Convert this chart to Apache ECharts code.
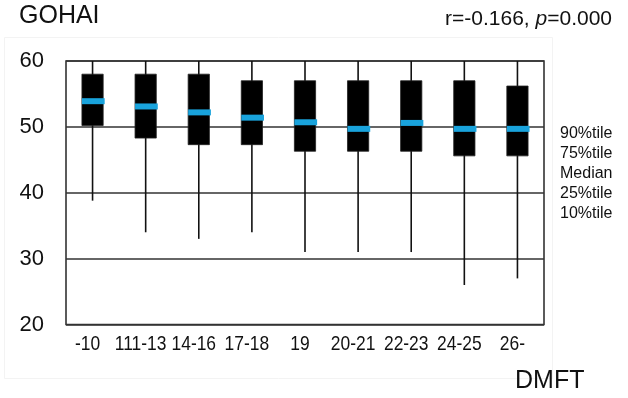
<!DOCTYPE html>
<html>
<head>
<meta charset="utf-8">
<script src="https://cdn.jsdelivr.net/npm/echarts@6/dist/echarts.min.js"></script>
<style>
  html, body { margin: 0; padding: 0; background: #fff; }
  #chart { width: 628px; height: 398px; }
</style>
</head>
<body>
<div id="chart"></div>
<script>
// DMFT groups and GOHAI percentiles per group
const categories = ['-10', '111-13', '14-16', '17-18', '19', '20-21', '22-23', '24-25', '26-'];
const p10    = [38.8, 34.0, 33.0, 34.0, 31.0, 31.0, 31.0, 26.0, 27.0];
const p25    = [50.2, 48.3, 47.3, 47.3, 46.3, 46.3, 46.3, 45.6, 45.6];
const median = [53.9, 53.1, 52.2, 51.4, 50.7, 49.7, 50.6, 49.7, 49.7];
const p75    = [58.0, 58.0, 58.0, 57.0, 57.0, 57.0, 57.0, 57.0, 56.2];
const p90    = [60, 60, 60, 60, 60, 60, 60, 60, 60];
const yTicks = [20, 30, 40, 50, 60];
const legendLines = ['90%tile', '75%tile', 'Median', '25%tile', '10%tile'];

const FONT = 'Liberation Sans, Arial, sans-serif';
const boxData = categories.map((c, i) => [i, p10[i], p25[i], median[i], p75[i], p90[i]]);

// whisker, filled box, blue median bar and a condensed category label per group
function renderBox(params, api) {
  const idx = api.value(0);
  const bandW = api.size([1, 0])[0];
  const boxW = bandW * 0.40;
  const top = api.coord([idx, api.value(5)]);
  const bot = api.coord([idx, api.value(1)]);
  const q1 = api.coord([idx, api.value(2)]);
  const md = api.coord([idx, api.value(3)]);
  const q3 = api.coord([idx, api.value(4)]);
  const base = api.coord([idx, yTicks[0]]);
  const x = top[0];
  return {
    type: 'group',
    children: [
      { type: 'line', shape: { x1: x, y1: top[1], x2: x, y2: bot[1] },
        style: { stroke: '#111', lineWidth: 1.6 } },
      { type: 'rect', shape: { x: x - boxW / 2, y: q3[1], width: boxW, height: q1[1] - q3[1] },
        style: { fill: '#000', stroke: '#222', lineWidth: 0.8 } },
      { type: 'line', shape: { x1: x - boxW / 2, y1: md[1], x2: x + boxW / 2 + 1.5, y2: md[1] },
        style: { stroke: '#19a3dc', lineWidth: 6 } },
      { type: 'text', x: x - 5, y: base[1] + 20, scaleX: 0.83,
        style: { text: categories[idx], fontSize: 21, fontFamily: FONT, fill: '#111',
                 align: 'center', verticalAlign: 'middle' } }
    ]
  };
}

const chart = echarts.init(document.getElementById('chart'), null, { renderer: 'canvas' });
chart.setOption({
  backgroundColor: '#fff',
  animation: false,
  grid: { left: 66, right: 84, top: 61, bottom: 73.5, show: true,
          borderColor: '#333', borderWidth: 1.6, backgroundColor: 'transparent' },
  xAxis: {
    type: 'category', data: categories, boundaryGap: true,
    axisLine: { show: false }, axisTick: { show: false }, splitLine: { show: false },
    axisLabel: { show: false }
  },
  yAxis: {
    type: 'value', min: yTicks[0], max: yTicks[yTicks.length - 1], interval: 10,
    axisLine: { show: false }, axisTick: { show: false },
    splitLine: { show: true, lineStyle: { color: '#333', width: 1.6 } },
    axisLabel: { color: '#111', fontFamily: FONT, fontSize: 22, margin: 22 }
  },
  series: [{
    type: 'custom', renderItem: renderBox, data: boxData, clip: false,
    encode: { x: 0, y: [1, 2, 3, 4, 5] }, z: 5
  }],
  graphic: [
    { type: 'rect', shape: { x: 4.5, y: 37.5, width: 548, height: 341 }, silent: true, z: -10,
      style: { fill: 'none', stroke: '#f3f3f3', lineWidth: 1 } },
    { type: 'text', left: 19, top: 4,
      style: { text: 'GOHAI', fontSize: 25, fontFamily: FONT, fill: '#111' } },
    { type: 'text', right: 16, top: 9,
      style: { rich: { n: { fontSize: 21, fontFamily: FONT, fill: '#111' },
                       i: { fontSize: 21, fontStyle: 'italic', fontFamily: FONT, fill: '#111' } },
               text: '{n|r=-0.166, }{i|p}{n|=0.000}' } },
    { type: 'text', left: 515, top: 369,
      style: { text: 'DMFT', fontSize: 25, fontFamily: FONT, fill: '#111' } },
    { type: 'text', left: 560, top: 124,
      style: { text: legendLines.join('\n'), fontSize: 16, lineHeight: 20,
               fontFamily: FONT, fill: '#111' } }
  ]
});
</script>
</body>
</html>
